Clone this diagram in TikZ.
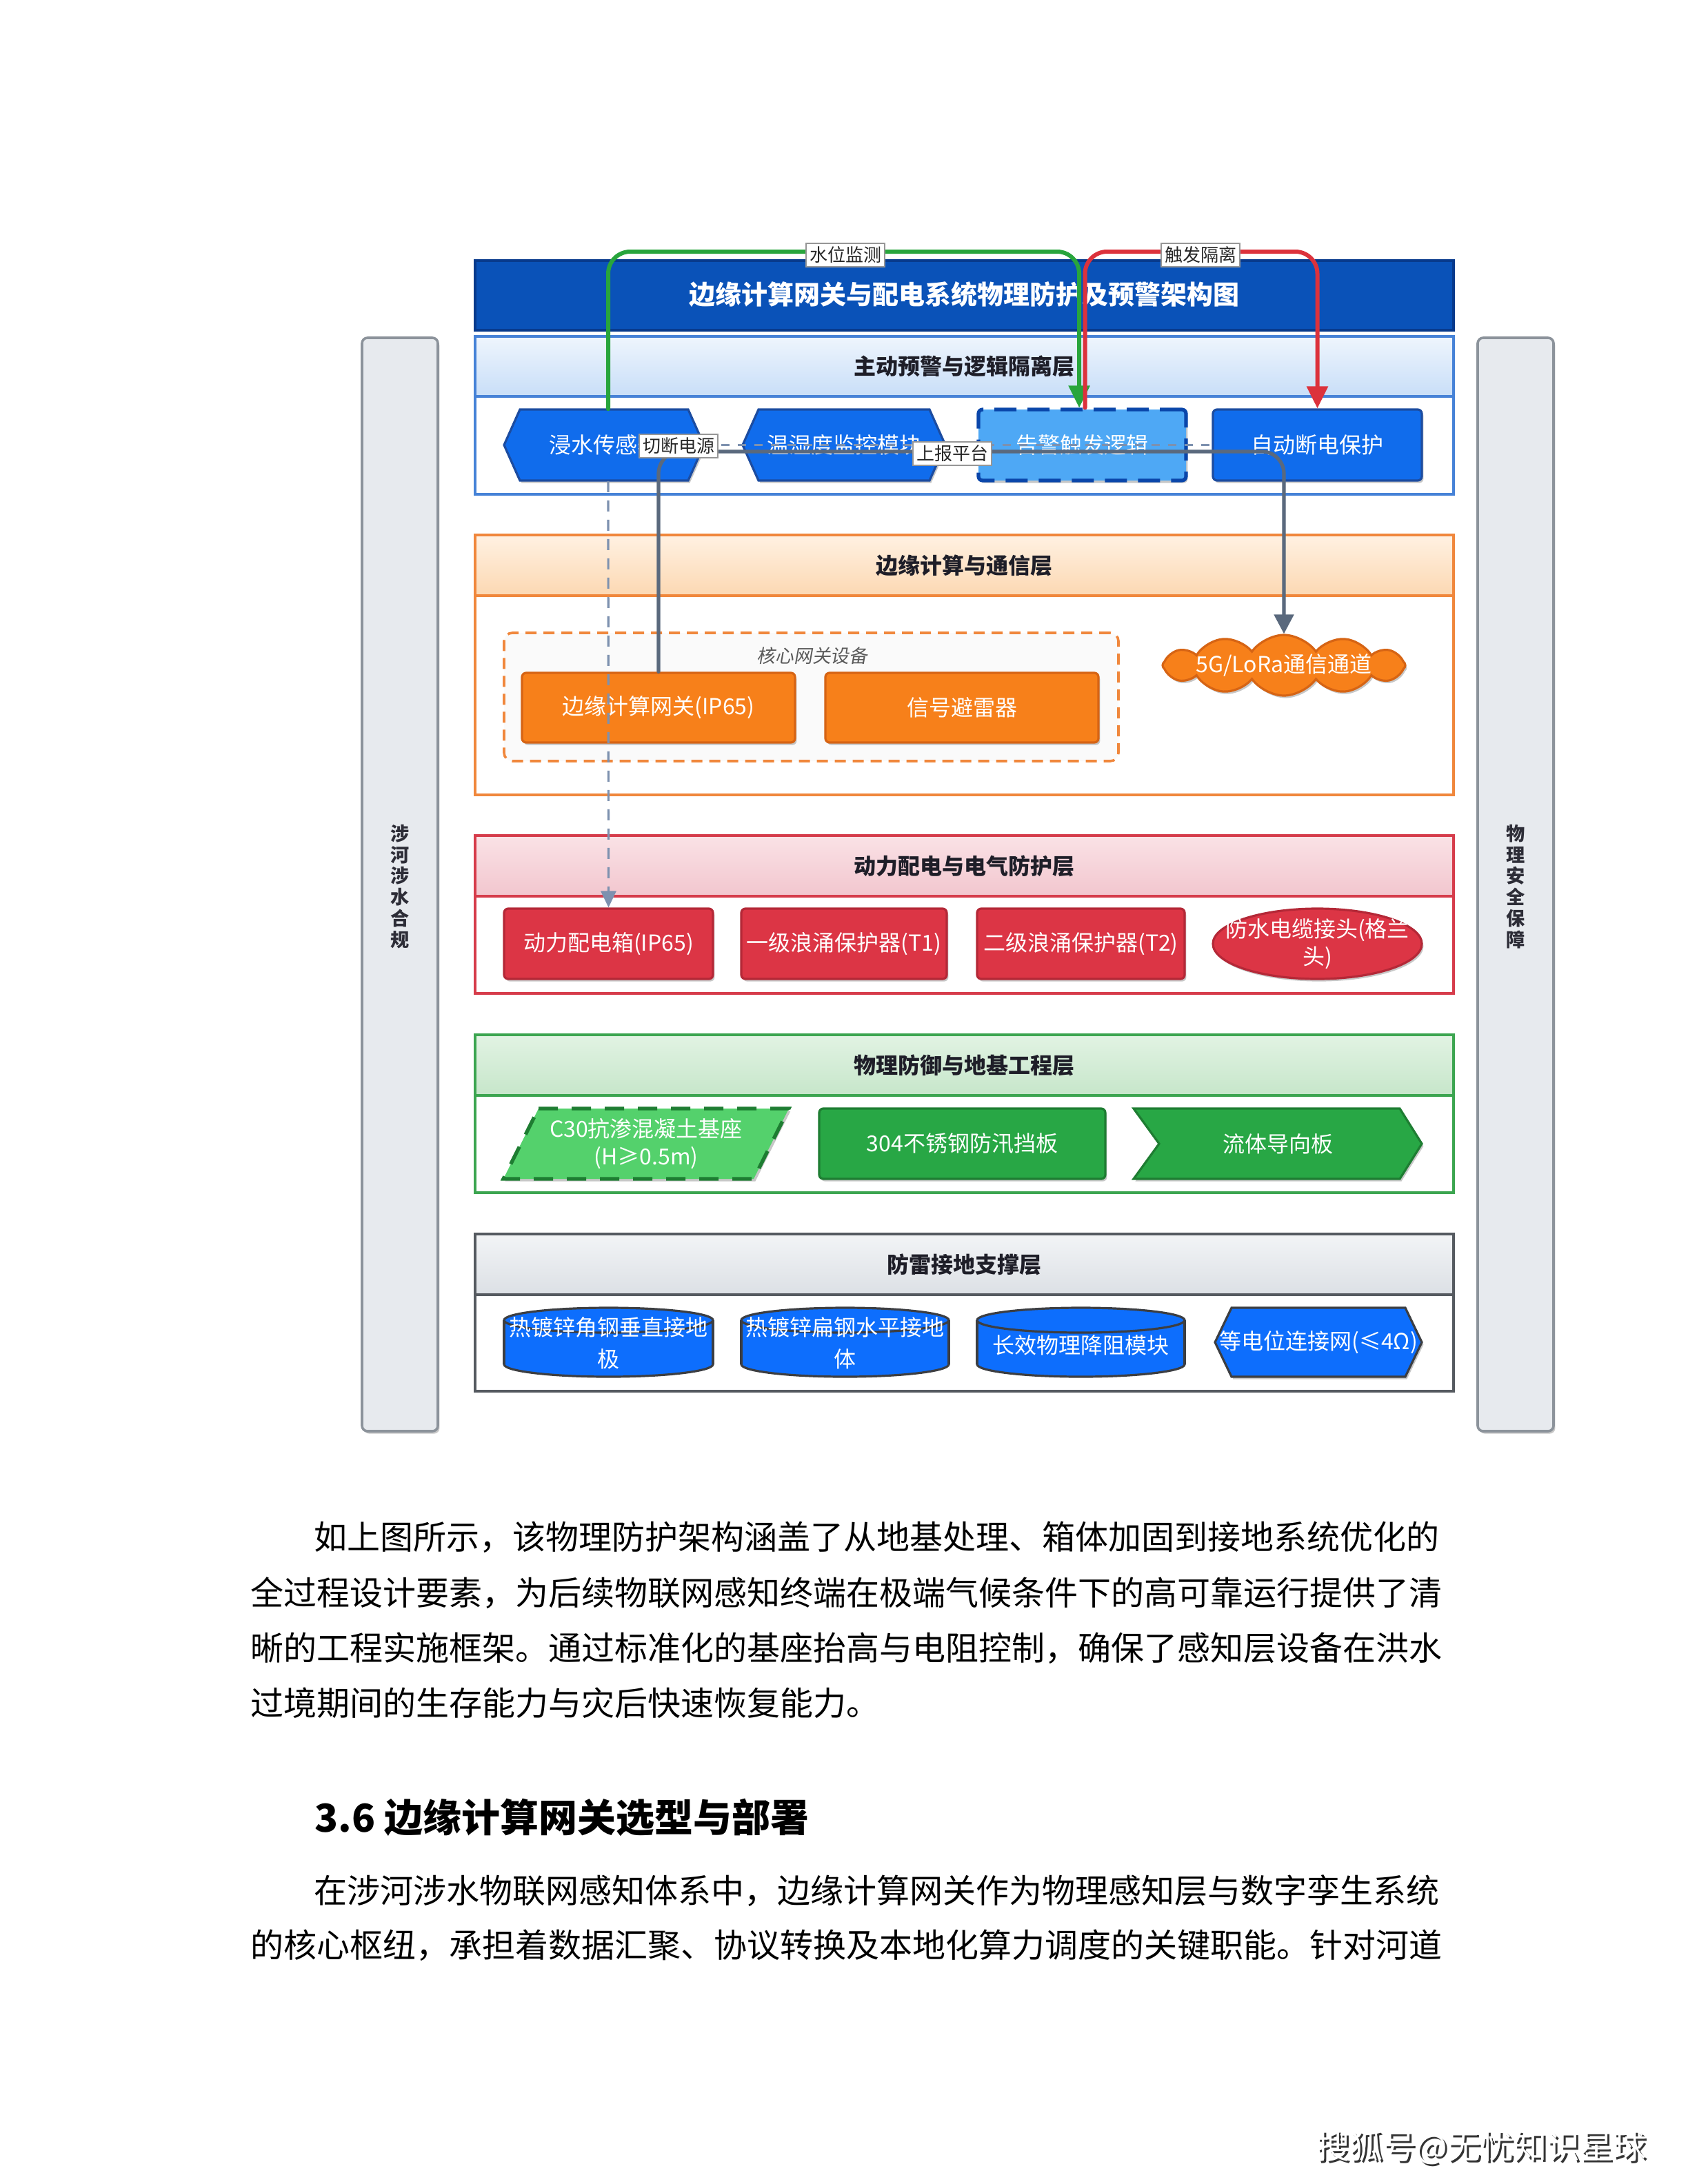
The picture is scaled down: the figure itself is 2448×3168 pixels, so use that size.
\documentclass[tikz,border=0pt]{standalone}
\usepackage{fontspec}
\setmainfont{Noto Sans CJK SC}
\newfontfamily\slantcjk[FakeSlant=0.18]{Noto Sans CJK SC}
\usetikzlibrary{arrows.meta,shapes.geometric,shapes.symbols,shadows,fit,calc}
\definecolor{titleblue}{RGB}{10,82,184}
\definecolor{titleedge}{RGB}{8,58,140}
\definecolor{Aedge}{RGB}{70,130,215}\definecolor{Atop}{RGB}{238,245,253}\definecolor{Abot}{RGB}{200,222,248}
\definecolor{Bedge}{RGB}{240,135,60}\definecolor{Btop}{RGB}{255,241,226}\definecolor{Bbot}{RGB}{252,216,178}
\definecolor{Cedge}{RGB}{214,60,75}\definecolor{Ctop}{RGB}{250,226,230}\definecolor{Cbot}{RGB}{242,198,206}
\definecolor{Dedge}{RGB}{60,165,80}\definecolor{Dtop}{RGB}{226,243,227}\definecolor{Dbot}{RGB}{198,230,202}
\definecolor{Eedge}{RGB}{85,90,96}\definecolor{Etop}{RGB}{242,244,246}\definecolor{Ebot}{RGB}{220,224,229}
\definecolor{nblue}{RGB}{16,108,236}\definecolor{nblueE}{RGB}{28,76,160}
\definecolor{alarmfill}{RGB}{78,168,245}\definecolor{alarmE}{RGB}{10,70,170}
\definecolor{norange}{RGB}{247,128,26}\definecolor{norangeE}{RGB}{214,100,20}
\definecolor{nred}{RGB}{220,53,69}\definecolor{nredE}{RGB}{180,40,55}
\definecolor{ngreen}{RGB}{40,167,69}\definecolor{ngreenE}{RGB}{30,125,50}
\definecolor{nlgreen}{RGB}{84,209,108}
\definecolor{nblue2}{RGB}{13,110,253}\definecolor{cylE}{RGB}{60,62,66}
\definecolor{sidefill}{RGB}{231,234,238}\definecolor{sideE}{RGB}{140,147,155}
\definecolor{sidetext}{RGB}{45,45,55}
\definecolor{lblE}{RGB}{150,150,150}
\definecolor{grpfill}{RGB}{250,250,250}
\definecolor{grptext}{RGB}{90,90,90}
\definecolor{gconn}{RGB}{40,165,60}\definecolor{rconn}{RGB}{220,50,60}
\definecolor{sconn}{RGB}{90,105,125}\definecolor{dconn}{RGB}{125,145,175}
\definecolor{hdrtext}{RGB}{30,30,40}
\newcommand\drawcyl[2]{%
  \pgfmathsetmacro\cylcx{(#1+#2)/2}\pgfmathsetmacro\cylrx{(#2-#1)/2}%
  \fill[nblue2] (#1,1915) rectangle (#2,1979);
  \fill[nblue2] (\cylcx,1979) ellipse [x radius=\cylrx, y radius=18];
  \draw[cylE, line width=0.8pt] (#1,1915) -- (#1,1979) (#2,1915) -- (#2,1979);
  \begin{scope}\clip (#1-10,1979) rectangle (#2+10,2010);
  \draw[cylE, line width=0.8pt] (\cylcx,1979) ellipse [x radius=\cylrx, y radius=18];\end{scope}
  \filldraw[fill=nblue2, draw=cylE, line width=0.8pt] (\cylcx,1915) ellipse [x radius=\cylrx, y radius=18];}
\tikzset{
  shd/.style={drop shadow={shadow xshift=0.6pt, shadow yshift=-0.9pt, opacity=0.22, fill=black}},
  ntxt/.style={text=white, font=\fontsize{8}{10}\selectfont, align=center, inner sep=0},
  box/.style={inner sep=0},
  rbox/.style={inner sep=0, line width=0.8pt, rounded corners=1.5pt, shd},
  hdr/.style={inner sep=0, line width=0.9pt},
  hdrt/.style={inner sep=0, text=hdrtext, font=\bfseries\fontsize{8}{10}\selectfont},
  laybody/.style={inner sep=0, line width=0.9pt},
  sidebar/.style={draw=sideE, fill=sidefill, line width=0.9pt, rounded corners=2pt, inner sep=0, shd},
  sidetxt/.style={font=\bfseries\fontsize{6.8}{7.7}\selectfont, align=center, text=sidetext, inner sep=0},
  lbl/.style={fill=white, draw=lblE, line width=0.4pt, inner sep=1.2pt, font=\fontsize{6.5}{7}\selectfont, text=black!85},
  conn/.style={rounded corners=8pt, line cap=round},
  para/.style={anchor=west, inner sep=0, font=\fontsize{12}{14}\selectfont, text=black},
}
\begin{document}
\begin{tikzpicture}[x=0.25pt,y=-0.25pt]
\useasboundingbox (0,0) rectangle (2448,3168);
\fill[white] (0,0) rectangle (2448,3168);

% side bars
\node[sidebar, fit={(525,490) (635,2076)}] (SL) {};
\node[sidetxt] (SLt) at (580,1286) {涉\\河\\涉\\水\\合\\规};
\node[sidebar, fit={(2143,490) (2253,2076)}] (SR) {};
\node[sidetxt] (SRt) at (2198,1286) {物\\理\\安\\全\\保\\障};

% title
\node[fit={(689,378) (2108,479)}, inner sep=0, fill=titleblue, draw=titleedge, line width=0.8pt] (T) {};
\node[font=\bfseries\fontsize{9.5}{11}\selectfont, text=white, inner sep=0] (Tt) at (1398,427) {边缘计算网关与配电系统物理防护及预警架构图};

% layer 1
\node[hdr, fit={(689,488) (2108,575)}, draw=Aedge, top color=Atop, bottom color=Abot] (L1h) {};
\node[hdrt] (L1t) at (L1h.center) {主动预警与逻辑隔离层};
\node[laybody, fit={(689,575) (2108,717)}, draw=Aedge] (L1) {};
\filldraw[fill=nblue, draw=nblueE, line width=0.8pt, shd] (731,645.5) -- (754,594) -- (998,594) -- (1021,645.5) -- (998,697) -- (754,697) -- cycle;
\node[box, fit={(731,594) (1021,697)}] (n11) {};
\node[ntxt] (n11t) at (n11.center) {浸水传感器};
\filldraw[fill=nblue, draw=nblueE, line width=0.8pt, shd] (1077,645.5) -- (1100,594) -- (1348,594) -- (1371,645.5) -- (1348,697) -- (1100,697) -- cycle;
\node[box, fit={(1077,594) (1371,697)}] (n12) {};
\node[ntxt] (n12t) at (n12.center) {温湿度监控模块};
\node[box, fit={(1419,594) (1720,697)}, fill=alarmfill, draw=alarmE, line width=1.3pt, dash pattern=on 8pt off 4pt, rounded corners=1.5pt, shd] (n13) {};
\node[ntxt] (n13t) at (n13.center) {告警触发逻辑};
\node[rbox, fill=nblue, draw=nblueE, fit={(1759,594) (2062,697)}] (n14) {};
\node[ntxt] (n14t) at (n14.center) {自动断电保护};

% layer 2
\node[hdr, fit={(689,776) (2108,864)}, draw=Bedge, top color=Btop, bottom color=Bbot] (L2h) {};
\node[hdrt] (L2t) at (L2h.center) {边缘计算与通信层};
\node[laybody, fit={(689,864) (2108,1153)}, draw=Bedge] (L2) {};
\node[fit={(731,918) (1622,1104)}, inner sep=0, draw=Bedge, fill=grpfill, line width=0.9pt, dash pattern=on 4pt off 2.5pt, rounded corners=3pt] (G) {};
\node[font=\slantcjk\fontsize{6.7}{8}\selectfont, text=grptext, inner sep=0] (Gt) at (1178,951) {核心网关设备};
\node[rbox, fill=norange, draw=norangeE, fit={(757,976) (1153,1077)}] (n21) {};
\node[ntxt] (n21t) at (n21.center) {边缘计算网关(IP65)};
\node[rbox, fill=norange, draw=norangeE, fit={(1197,976) (1593,1077)}] (n22) {};
\node[ntxt] (n22t) at (n22.center) {信号避雷器};
\node[cloud, cloud puffs=12, cloud puff arc=110, cloud ignores aspect, minimum width=88pt, minimum height=22pt, inner sep=0, fill=norange, draw=norangeE, line width=0.8pt, shd] (cl) at (1862,965) {};
\node[ntxt] (clt) at (cl.center) {5G/LoRa通信通道};

% layer 3
\node[hdr, fit={(689,1212) (2108,1300)}, draw=Cedge, top color=Ctop, bottom color=Cbot] (L3h) {};
\node[hdrt] (L3t) at (L3h.center) {动力配电与电气防护层};
\node[laybody, fit={(689,1300) (2108,1441)}, draw=Cedge] (L3) {};
\node[rbox, fill=nred, draw=nredE, fit={(731,1318) (1034,1420)}] (n31) {};
\node[ntxt] (n31t) at (n31.center) {动力配电箱(IP65)};
\node[rbox, fill=nred, draw=nredE, fit={(1075,1318) (1373,1420)}] (n32) {};
\node[ntxt] (n32t) at (n32.center) {一级浪涌保护器(T1)};
\node[rbox, fill=nred, draw=nredE, fit={(1417,1318) (1718,1420)}] (n33) {};
\node[ntxt] (n33t) at (n33.center) {二级浪涌保护器(T2)};
\node[ellipse, minimum width=75.75pt, minimum height=25.5pt, inner sep=0, fill=nred, draw=nredE, line width=0.8pt, shd] (n34) at (1910.5,1369) {};
\node[ntxt] (n34t) at (n34.center) {防水电缆接头(格兰\\头)};

% layer 4
\node[hdr, fit={(689,1501) (2108,1589)}, draw=Dedge, top color=Dtop, bottom color=Dbot] (L4h) {};
\node[hdrt] (L4t) at (L4h.center) {物理防御与地基工程层};
\node[laybody, fit={(689,1589) (2108,1730)}, draw=Dedge] (L4) {};
\filldraw[fill=nlgreen, draw=ngreenE, line width=1.3pt, dash pattern=on 7pt off 5pt, shd] (781,1608) -- (1144,1608) -- (1093,1710) -- (730,1710) -- cycle;
\node[box, fit={(730,1608) (1144,1710)}] (n41) {};
\node[ntxt] (n41t) at (n41.center) {C30抗渗混凝土基座\\(H≥0.5m)};
\node[rbox, fill=ngreen, draw=ngreenE, fit={(1188,1608) (1603,1710)}] (n42) {};
\node[ntxt] (n42t) at (n42.center) {304不锈钢防汛挡板};
\filldraw[fill=ngreen, draw=ngreenE, line width=0.8pt, shd] (1644,1608) -- (2030,1608) -- (2062,1659) -- (2030,1710) -- (1644,1710) -- (1681,1659) -- cycle;
\node[box, fit={(1644,1608) (2062,1710)}] (n43) {};
\node[ntxt] (n43t) at (n43.center) {流体导向板};

% layer 5
\node[hdr, fit={(689,1790) (2108,1878)}, draw=Eedge, top color=Etop, bottom color=Ebot] (L5h) {};
\node[hdrt] (L5t) at (L5h.center) {防雷接地支撑层};
\node[laybody, fit={(689,1878) (2108,2018)}, draw=Eedge] (L5) {};
\drawcyl{731}{1034}
\node[box, fit={(731,1897) (1034,1997)}] (n51) {};
\node[ntxt, font=\fontsize{8}{11.7}\selectfont] (n51t) at ([yshift=-0.3pt]n51.center) {热镀锌角钢垂直接地\\极};
\drawcyl{1075}{1376}
\node[box, fit={(1075,1897) (1376,1997)}] (n52) {};
\node[ntxt, font=\fontsize{8}{11.7}\selectfont] (n52t) at ([yshift=-0.3pt]n52.center) {热镀锌扁钢水平接地\\体};
\drawcyl{1417}{1718}
\node[box, fit={(1417,1897) (1718,1997)}] (n53) {};
\node[ntxt] (n53t) at ([yshift=-1.2pt]n53.center) {长效物理降阻模块};
\filldraw[fill=nblue2, draw=cylE, line width=0.8pt, shd] (1762,1947) -- (1786,1897) -- (2038,1897) -- (2062,1947) -- (2038,1997) -- (1786,1997) -- cycle;
\node[box, fit={(1762,1897) (2062,1997)}] (n54) {};
\node[ntxt] (n54t) at (n54.center) {等电位连接网(≤4Ω)};

% connectors
\draw[dconn, line width=0.7pt, dash pattern=on 3pt off 3pt] (n11.east) -- (n14.west);
\draw[dconn, line width=0.8pt, dash pattern=on 4pt off 3pt, -{Triangle[length=6pt,width=5.5pt]}] ([xshift=1.5pt]n11.south) -- (n31.north);
\draw[conn, gconn, line width=1.5pt, -{Triangle[length=8pt,width=7.5pt]}] ([xshift=1.5pt]n11.north) -- (882,365) -- (1565,365) -- ([xshift=-1.1pt]n13.north);
\draw[conn, rconn, line width=1.5pt, -{Triangle[length=8pt,width=7.5pt]}] ([xshift=1pt]n13.north) -- (1573.5,365) -- (1910.5,365) -- (n14.north);
\draw[conn, sconn, line width=1.3pt, -{Triangle[length=7pt,width=7pt]}] (n21.north) -- (955,655) -- (1862,655) -- (cl.north);
\node[lbl] (lb1) at (1226,370) {水位监测};
\node[lbl] (lb2) at (1741,370) {触发隔离};
\node[lbl] (lb3) at (984,647) {切断电源};
\node[lbl] (lb4) at (1381,658) {上报平台};

% text below
\node[para] (p1) at (455,2230) {如上图所示，该物理防护架构涵盖了从地基处理、箱体加固到接地系统优化的};
\node[para] (p2) at (363,2311) {全过程设计要素，为后续物联网感知终端在极端气候条件下的高可靠运行提供了清};
\node[para] (p3) at (363,2391) {晰的工程实施框架。通过标准化的基座抬高与电阻控制，确保了感知层设备在洪水};
\node[para] (p4) at (363,2470) {过境期间的生存能力与灾后快速恢复能力。};
\node[anchor=west, inner sep=0, font=\bfseries\fontsize{14}{16}\selectfont] (h36) at (456,2636) {3.6 边缘计算网关选型与部署};
\node[para] (q1) at (455,2743) {在涉河涉水物联网感知体系中，边缘计算网关作为物理感知层与数字孪生系统};
\node[para] (q2) at (363,2822) {的核心枢纽，承担着数据汇聚、协议转换及本地化算力调度的关键职能。针对河道};
\node[anchor=west, inner sep=0, font=\fontsize{12}{14}\selectfont, text=black!80] (ft0) at (1912,3118) {搜狐号@无忧知识星球};
\node[anchor=west, inner sep=0, font=\fontsize{12}{14}\selectfont, text=white] (ft) at (1909,3115) {搜狐号@无忧知识星球};
\end{tikzpicture}
\end{document}
